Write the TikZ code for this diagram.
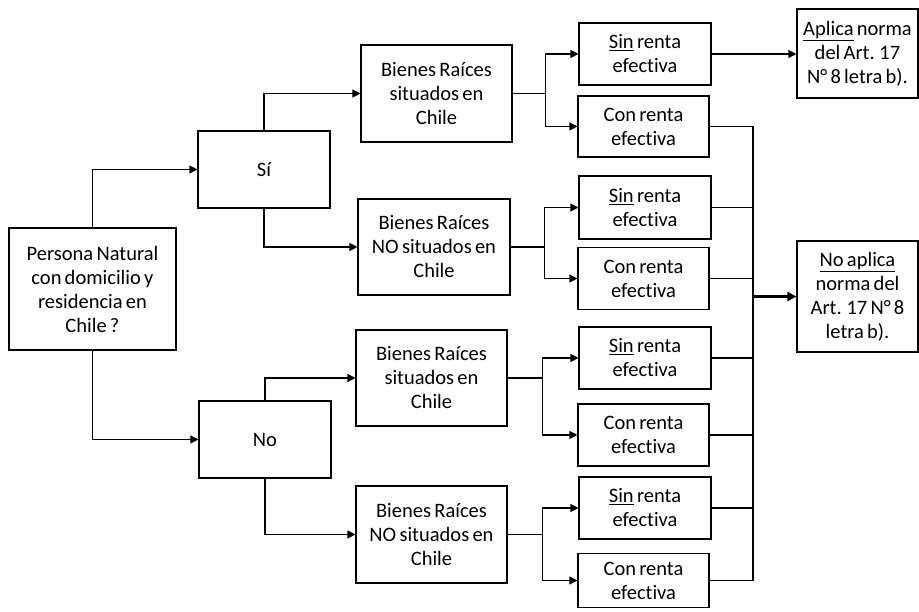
\documentclass[tikz,border=0pt]{standalone}
\usepackage{fontspec}
\setmainfont{Carlito}[WordSpace=0.7,Ligatures=NoCommon]
\usetikzlibrary{arrows.meta}
\begin{document}
\begin{tikzpicture}[x=1pt,y=-1pt,
  box/.style={draw=black,line width=1.1pt,inner sep=0pt,align=center,
    font=\fontsize{20.5}{24}\selectfont},
  conn/.style={draw=black,line width=1.1pt},
  arr/.style={conn,-{Triangle[length=8pt,width=8pt]}},
  bigarr/.style={draw=black,line width=2.4pt,-{Triangle[length=9pt,width=9pt]}}]
\useasboundingbox (0,0) rectangle (919,612);
\node[box,minimum width=167pt,minimum height=122pt] (pn) at (92.5,289) {Persona Natural\\con domicilio y\\residencia en\\Chile ?};
\node[box,minimum width=132pt,minimum height=77pt] (si) at (264,169.5) {Sí};
\node[box,minimum width=132pt,minimum height=77pt] (no) at (265,439.5) {No};
\node[box,minimum width=151pt,minimum height=97pt] (br1) at (436.5,93.5) {Bienes Raíces\\situados en\\Chile};
\node[box,minimum width=152pt,minimum height=96pt] (br2) at (434,247) {Bienes Raíces\\NO situados en\\Chile};
\node[box,minimum width=151pt,minimum height=96pt] (br3) at (431.5,378) {Bienes Raíces\\situados en\\Chile};
\node[box,minimum width=151pt,minimum height=97pt] (br4) at (431.5,534.5) {Bienes Raíces\\NO situados en\\Chile};
\node[box,minimum width=132pt,minimum height=62pt] (sin1) at (645,54) {\underline{Sin} renta\\efectiva};
\node[box,minimum width=131pt,minimum height=61pt] (con1) at (643.5,126.5) {Con renta\\efectiva};
\node[box,minimum width=132pt,minimum height=63pt] (sin2) at (645,207.5) {\underline{Sin} renta\\efectiva};
\node[box,minimum width=131pt,minimum height=62pt] (con2) at (643.5,278.5) {Con renta\\efectiva};
\node[box,minimum width=132pt,minimum height=62pt] (sin3) at (645,358) {\underline{Sin} renta\\efectiva};
\node[box,minimum width=131pt,minimum height=62pt] (con3) at (643.5,435) {Con renta\\efectiva};
\node[box,minimum width=132pt,minimum height=62pt] (sin4) at (645,508) {\underline{Sin} renta\\efectiva};
\node[box,minimum width=131pt,minimum height=54pt] (con4) at (643.5,580.5) {Con renta\\efectiva};
\node[box,minimum width=121pt,minimum height=89pt] (ap) at (857.5,53.5) {\underline{Aplica} norma\\del Art. 17\\N° 8 letra b).};
\node[box,minimum width=121pt,minimum height=111pt] (nap) at (857.5,296.5) {\underline{No aplica}\\norma del\\Art. 17 N° 8\\letra b).};
% connectors from root
\draw[arr] (pn.north) |- (si.west);
\draw[arr] (pn.south) |- (no.west);
\draw[arr] (si.north) |- (br1.west);
\draw[arr] (si.south) |- (br2.west);
\draw[arr] (no.north) |- (br3.west);
\draw[arr] (no.south) |- (br4.west);
% splits
\draw[arr] (br1.east) -- ++(33,0) coordinate (j1) |- (sin1.west);
\draw[arr] (j1) |- (con1.west);
\draw[arr] (br2.east) -- ++(34,0) coordinate (j2) |- (sin2.west);
\draw[arr] (j2) |- (con2.west);
\draw[arr] (br3.east) -- ++(35,0) coordinate (j3) |- (sin3.west);
\draw[arr] (j3) |- (con3.west);
\draw[arr] (br4.east) -- ++(35,0) coordinate (j4) |- (sin4.west);
\draw[arr] (j4) |- (con4.west);
% aplica
\draw[arr] (sin1.east) -- (sin1.east -| ap.west);
% bus
\coordinate (bus) at (753,0);
\draw[conn] (con1.east) -- (con1.east -| bus) -- (con4.east -| bus) -- (con4.east);
\foreach \n in {sin2,con2,sin3,con3,sin4}{
  \draw[conn] (\n.east) -- (\n.east -| bus);
}
\draw[bigarr] (nap.west -| bus) -- (nap.west);
\end{tikzpicture}
\end{document}
